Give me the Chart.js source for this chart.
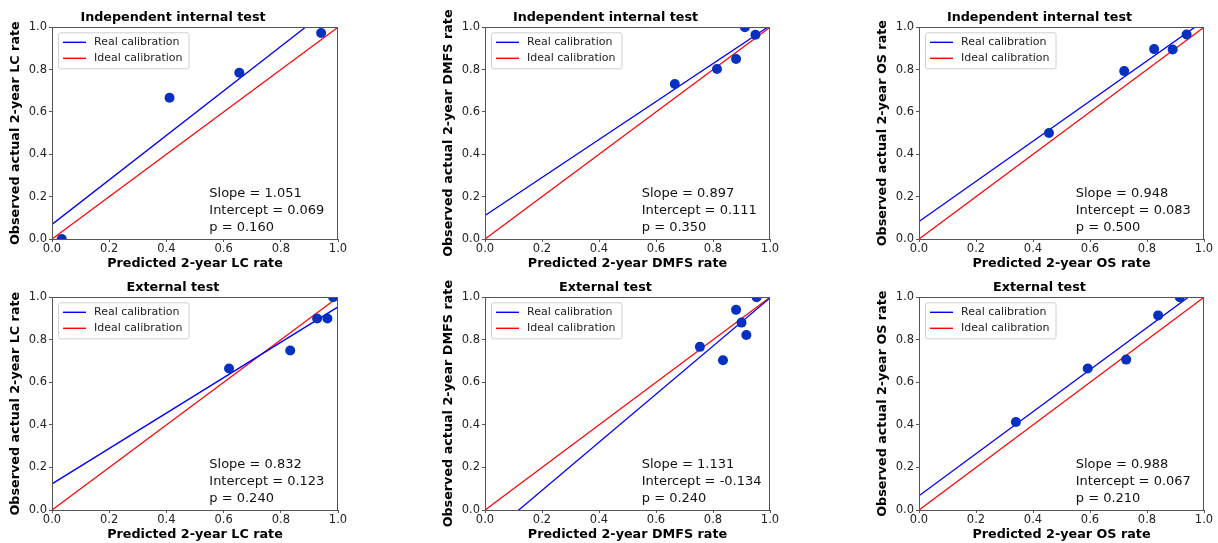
<!DOCTYPE html>
<html lang="en">
<head>
    <meta charset="UTF-8">
    <title>Calibration curves</title>
    <script src="https://cdn.jsdelivr.net/npm/chart.js"></script>
    <style>
        html, body { margin: 0; padding: 0; background: #fff; overflow: hidden; }
        body { width: 1218px; height: 543px; position: relative; }
        .panel { position: absolute; }
    </style>
</head>
<body>
    <div class="panel" style="left:8px;top:0px;width:374px;height:271px"><canvas id="c0"></canvas></div>
    <div class="panel" style="left:441px;top:0px;width:373px;height:271px"><canvas id="c1"></canvas></div>
    <div class="panel" style="left:875px;top:0px;width:373px;height:271px"><canvas id="c2"></canvas></div>
    <div class="panel" style="left:8px;top:270px;width:374px;height:272px"><canvas id="c3"></canvas></div>
    <div class="panel" style="left:441px;top:270px;width:373px;height:272px"><canvas id="c4"></canvas></div>
    <div class="panel" style="left:875px;top:270px;width:373px;height:272px"><canvas id="c5"></canvas></div>

    <script>
        // values
        const panelTitles = ['Independent internal test', 'Independent internal test', 'Independent internal test',
                             'External test', 'External test', 'External test'];
        const endpoints = ['LC', 'DMFS', 'OS', 'LC', 'DMFS', 'OS'];

        const predicted = [
            [0.034, 0.411, 0.655, 0.941],
            [0.666, 0.814, 0.881, 0.912, 0.949],
            [0.456, 0.720, 0.825, 0.890, 0.939],
            [0.619, 0.833, 0.927, 0.963, 0.983],
            [0.754, 0.835, 0.881, 0.900, 0.917, 0.953],
            [0.340, 0.592, 0.727, 0.839, 0.915]
        ];
        const observed = [
            [0.000, 0.667, 0.785, 0.973],
            [0.732, 0.803, 0.850, 1.000, 0.965],
            [0.501, 0.793, 0.897, 0.895, 0.966],
            [0.665, 0.750, 0.900, 0.900, 1.000],
            [0.767, 0.704, 0.941, 0.881, 0.823, 1.000],
            [0.414, 0.665, 0.707, 0.915, 1.000]
        ];

        const slopeText = ['1.051', '0.897', '0.948', '0.832', '1.131', '0.988'];
        const interceptText = ['0.069', '0.111', '0.083', '0.123', '-0.134', '0.067'];
        const pText = ['0.160', '0.350', '0.500', '0.240', '0.240', '0.210'];

        // real calibration line: y at x = 0 and at x = 1
        const realLineX = [0, 1];
        const realLineY0 = [0.069, 0.111, 0.083, 0.123, -0.134, 0.067];
        const realLineY1 = [1.120, 1.008, 1.031, 0.955, 0.997, 1.055];
        const idealLineX = [0, 1];
        const idealLineY = [0, 1];

        const tickValues = [0, 0.2, 0.4, 0.6, 0.8, 1.0];

        const FONT = 'DejaVu Sans';

        // frame round the plot area
        const framePlugin = {
            id: 'frame',
            afterDatasetsDraw(chart) {
                const a = chart.chartArea;
                const ctx = chart.ctx;
                ctx.save();
                ctx.strokeStyle = '#555';
                ctx.lineWidth = 1;
                ctx.strokeRect(Math.round(a.left) + 0.5, Math.round(a.top) + 0.5,
                               Math.round(a.right - a.left) - 1, Math.round(a.bottom - a.top));
                ctx.restore();
            }
        };

        // legend box in the upper left corner, like matplotlib
        const boxLegendPlugin = {
            id: 'boxLegend',
            afterDraw(chart) {
                const a = chart.chartArea;
                const ctx = chart.ctx;
                const items = chart.data.datasets.filter(d => d.type === 'line');
                ctx.save();
                ctx.font = '11px "' + FONT + '"';
                let maxW = 0;
                items.forEach(d => { maxW = Math.max(maxW, ctx.measureText(d.label).width); });
                const bx = a.left + 6, by = a.top + 5;
                const bw = 36 + maxW + 6, bh = 36;
                ctx.fillStyle = 'rgba(255,255,255,0.8)';
                ctx.strokeStyle = '#d0d0d0';
                ctx.lineWidth = 1;
                ctx.beginPath();
                ctx.roundRect(bx + 0.5, by + 0.5, bw, bh, 2);
                ctx.fill();
                ctx.stroke();
                items.forEach((d, i) => {
                    const y = a.top + 15 + i * 16;
                    ctx.strokeStyle = d.borderColor;
                    ctx.lineWidth = 1.4;
                    ctx.beginPath();
                    ctx.moveTo(a.left + 11, y);
                    ctx.lineTo(a.left + 34, y);
                    ctx.stroke();
                    ctx.fillStyle = '#222';
                    ctx.textBaseline = 'middle';
                    ctx.textAlign = 'left';
                    ctx.fillText(d.label, a.left + 42, y);
                });
                ctx.restore();
            }
        };

        // slope / intercept / p text
        const statsPlugin = {
            id: 'stats',
            afterDraw(chart, args, opts) {
                const ctx = chart.ctx;
                const x = chart.scales.x.getPixelForValue(0.55);
                const y = chart.scales.y.getPixelForValue(0.055);
                ctx.save();
                ctx.font = '13px "' + FONT + '"';
                ctx.fillStyle = '#111';
                ctx.textAlign = 'left';
                ctx.textBaseline = 'middle';
                opts.lines.forEach((t, i) => {
                    ctx.fillText(t, x, y - (opts.lines.length - 1 - i) * 17);
                });
                ctx.restore();
            }
        };

        function axis(title, isY) {
            return {
                type: 'linear',
                min: 0,
                max: 1,
                afterBuildTicks(scale) { scale.ticks = tickValues.map(v => ({ value: v })); },
                afterFit(scale) {
                    if (isY) scale.width = 44; else scale.height = 32;
                },
                ticks: {
                    callback: v => v.toFixed(1),
                    color: '#222',
                    font: { family: FONT, size: 11.5 },
                    padding: isY ? 2 : 0,
                    maxRotation: 0
                },
                grid: {
                    display: true,
                    drawOnChartArea: false,
                    drawTicks: true,
                    tickLength: 3,
                    tickColor: '#555'
                },
                border: { display: false },
                title: {
                    display: true,
                    text: title,
                    color: '#000',
                    font: { family: FONT, size: 12.75, weight: 'bold' },
                    padding: 0
                }
            };
        }

        for (let i = 0; i < 6; i++) {
            const points = predicted[i].map((x, k) => ({ x: x, y: observed[i][k] }));
            new Chart(document.getElementById('c' + i), {
                type: 'scatter',
                data: {
                    datasets: [
                        {
                            type: 'scatter',
                            label: 'Observed',
                            data: points,
                            backgroundColor: '#0530c0',
                            borderColor: '#0530c0',
                            borderWidth: 0,
                            pointRadius: 5,
                            order: 0
                        },
                        {
                            type: 'line',
                            label: 'Real calibration',
                            data: [{ x: realLineX[0], y: realLineY0[i] }, { x: realLineX[1], y: realLineY1[i] }],
                            borderColor: '#0000ff',
                            borderWidth: 1.3,
                            pointRadius: 0,
                            fill: false,
                            order: 1
                        },
                        {
                            type: 'line',
                            label: 'Ideal calibration',
                            data: idealLineX.map((x, k) => ({ x: x, y: idealLineY[k] })),
                            borderColor: '#ff0000',
                            borderWidth: 1.3,
                            pointRadius: 0,
                            fill: false,
                            order: 2
                        }
                    ]
                },
                options: {
                    responsive: true,
                    maintainAspectRatio: false,
                    animation: false,
                    layout: { padding: { left: 0, right: 44, top: 0, bottom: 0 } },
                    scales: {
                        x: axis('Predicted 2-year ' + endpoints[i] + ' rate', false),
                        y: axis('Observed actual 2-year ' + endpoints[i] + ' rate', true)
                    },
                    plugins: {
                        legend: { display: false },
                        tooltip: { enabled: false },
                        title: {
                            display: true,
                            text: panelTitles[i],
                            color: '#000',
                            font: { family: FONT, size: 12.75, weight: 'bold', lineHeight: 1.2 },
                            padding: { top: 10, bottom: 2 }
                        },
                        stats: {
                            lines: ['Slope = ' + slopeText[i], 'Intercept = ' + interceptText[i], 'p = ' + pText[i]]
                        }
                    }
                },
                plugins: [framePlugin, boxLegendPlugin, statsPlugin]
            });
        }
    </script>
</body>
</html>
